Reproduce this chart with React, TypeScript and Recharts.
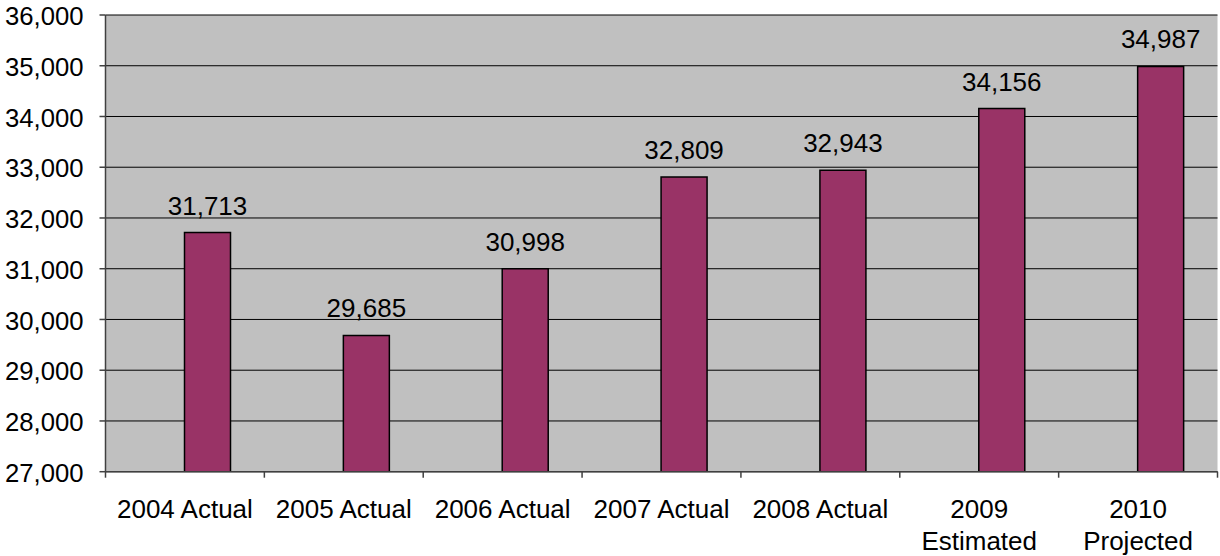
import React from "react";
import { BarChart, Bar, XAxis, YAxis, CartesianGrid, LabelList } from "recharts";

const categories = [
  "2004 Actual",
  "2005 Actual",
  "2006 Actual",
  "2007 Actual",
  "2008 Actual",
  "2009\nEstimated",
  "2010\nProjected",
];
const values = [31713, 29685, 30998, 32809, 32943, 34156, 34987];
const yTicks = [27000, 28000, 29000, 30000, 31000, 32000, 33000, 34000, 35000, 36000];

const data = categories.map((name, i) => ({ name, value: values[i], blank: null as number | null }));

const FONT = "'Liberation Sans', Arial, sans-serif";
const fmt = (v: number) => v.toLocaleString("en-US");

const XTick = (props: any) => {
  const { x, y, payload, index, visibleTicksCount, width } = props;
  const band = width / visibleTicksCount;
  const lines = String(payload.value).split("\n");
  const isLast = index === visibleTicksCount - 1;
  return (
    <g>
      <line x1={x - band / 2} x2={x - band / 2} y1={y} y2={y + 6} stroke="#404040" strokeWidth={1.5} />
      {isLast && (
        <line x1={x + band / 2} x2={x + band / 2} y1={y} y2={y + 6} stroke="#404040" strokeWidth={1.5} />
      )}
      <text x={x} y={y + 46} textAnchor="middle" fontFamily={FONT} fontSize={26} fill="#000">
        {lines.map((l, i) => (
          <tspan key={i} x={x} dy={i === 0 ? 0 : 32}>
            {l}
          </tspan>
        ))}
      </text>
    </g>
  );
};

export default function App() {
  return (
    <div style={{ position: "absolute", left: 0, top: 0, width: 1220, height: 556, background: "#fff" }}>
      <BarChart
        width={1220}
        height={556}
        data={data}
        margin={{ top: 15, right: 2.5, bottom: 0, left: 0 }}
        barSize={46}
        barGap={0}
      >
        <CartesianGrid fill="#C0C0C0" stroke="#000" strokeWidth={1} vertical={false} />
        <XAxis
          dataKey="name"
          height={84.3}
          interval={0}
          tickSize={0}
          tickMargin={0}
          tickLine={false}
          axisLine={{ stroke: "#404040", strokeWidth: 1.5 }}
          tick={<XTick />}
        />
        <XAxis
          xAxisId="top"
          dataKey="name"
          orientation="top"
          height={0}
          tick={false}
          tickLine={false}
          axisLine={{ stroke: "#808080", strokeWidth: 1.5 }}
        />
        <YAxis
          width={105.5}
          domain={[27000, 36000]}
          ticks={yTicks}
          interval={0}
          allowDataOverflow
          tickFormatter={fmt}
          tickSize={6}
          tickMargin={16}
          tickLine={{ stroke: "#404040", strokeWidth: 1.5 }}
          axisLine={{ stroke: "#404040", strokeWidth: 1.5 }}
          tick={{ fontFamily: FONT, fontSize: 25.7, fill: "#000", dy: 1 }}
        />
        <YAxis
          yAxisId="right"
          orientation="right"
          width={0}
          domain={[27000, 36000]}
          tick={false}
          tickLine={false}
          axisLine={{ stroke: "#808080", strokeWidth: 1.5 }}
        />
        <Bar dataKey="blank" fill="transparent" isAnimationActive={false} />
        <Bar dataKey="value" fill="#993366" stroke="#000" strokeWidth={1.5} isAnimationActive={false}>
          <LabelList
            dataKey="value"
            position="top"
            offset={18}
            formatter={(v: any) => fmt(Number(v))}
            style={{ fontFamily: FONT, fontSize: 26, fill: "#000" }}
          />
        </Bar>
      </BarChart>
    </div>
  );
}
